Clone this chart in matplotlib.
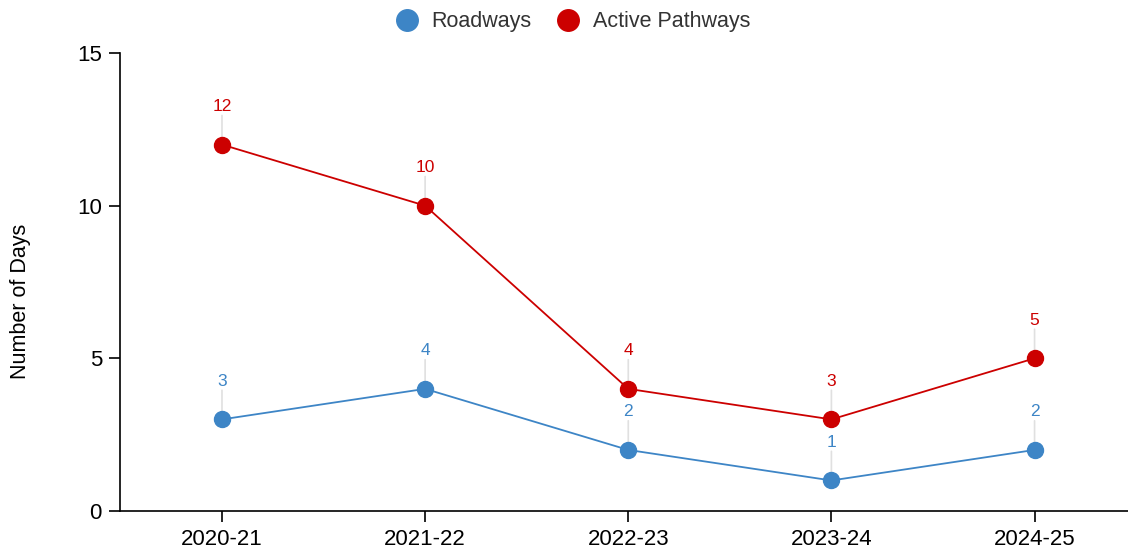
import matplotlib
matplotlib.use("Agg")
import matplotlib.pyplot as plt
from matplotlib.lines import Line2D

plt.rcParams['font.family'] = ['Liberation Sans', 'DejaVu Sans']

years = ['2020-21', '2021-22', '2022-23', '2023-24', '2024-25']
roadways = [3, 4, 2, 1, 2]
pathways = [12, 10, 4, 3, 5]

blue = '#3d85c6'
red = '#cc0000'

fig = plt.figure(figsize=(11.28, 5.54), dpi=100)
ax = fig.add_axes([120/1128, 43/554, 1008/1128, 458/554])

x = list(range(len(years)))
for vals, col in [(roadways, blue), (pathways, red)]:
    ax.plot(x, vals, color=col, lw=1.3, marker='o', ms=11.5, zorder=3)
    for xi, v in zip(x, vals):
        # thin grey leader line + value label
        ax.annotate('', xy=(xi, v), xytext=(0, 21), textcoords='offset points',
                    arrowprops=dict(arrowstyle='-', color='#e0e0e0', lw=1.2,
                                    shrinkA=0, shrinkB=0), zorder=1)
        ax.annotate(str(v), xy=(xi, v), xytext=(0, 22), textcoords='offset points',
                    ha='center', va='bottom', color=col, fontsize=12.5)

ax.set_xlim(-0.502, 4.46)
ax.set_ylim(0, 15)
ax.set_yticks([0, 5, 10, 15])
ax.set_xticks(x)
ax.set_xticklabels(years)
ax.tick_params(axis='both', labelsize=16, length=8, width=1.2, colors='black', pad=5)
ax.spines['top'].set_visible(False)
ax.spines['right'].set_visible(False)
ax.spines['left'].set_linewidth(1.2)
ax.spines['bottom'].set_linewidth(1.2)
ax.set_ylabel('Number of Days', fontsize=15.5, labelpad=33, y=0.4585)

handles = [Line2D([], [], ls='none', marker='o', ms=15.5, color=blue),
           Line2D([], [], ls='none', marker='o', ms=15.5, color=red)]
leg = fig.legend(handles, ['Roadways', 'Active Pathways'], loc='upper center',
                 bbox_to_anchor=(0.507, 1.015), ncol=2, frameon=False,
                 fontsize=15.5, handletextpad=0.55, columnspacing=1.1,
                 handlelength=1.2)
for t in leg.get_texts():
    t.set_color('#333333')

plt.savefig('out.png', dpi=100)
